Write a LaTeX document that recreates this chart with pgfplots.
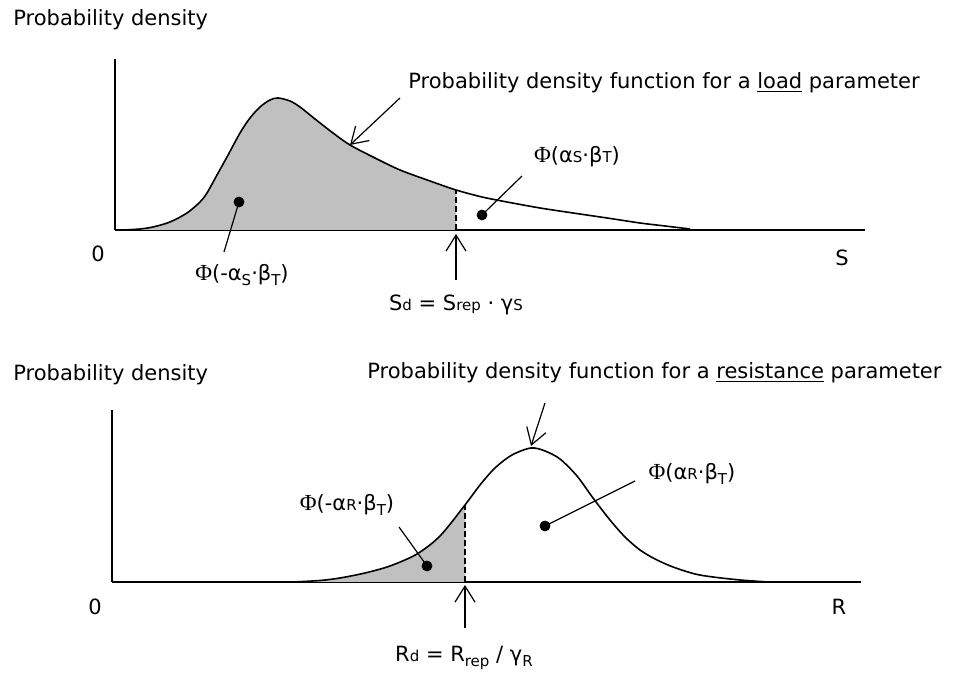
\documentclass[border=0pt]{standalone}
\usepackage{fontspec}
\setmainfont{DejaVu Sans}
\newfontfamily\phifont{Liberation Serif}
\usepackage{pgfplots}
\pgfplotsset{compat=1.18}
\usetikzlibrary{arrows.meta}
\definecolor{shade}{HTML}{C0C0C0}
\newcommand{\PHI}{{\phifont\fontsize{11.5}{13}\selectfont Φ}}
\newcommand{\lo}[1]{\raisebox{-0.4ex}{\fontsize{7.5}{9}\selectfont #1}}
\newcommand{\bs}[1]{{\fontsize{7.5}{9}\selectfont #1}}
\tikzset{arr/.style={-{Straight Barb[length=8pt,width=10pt]}, line width=0.6pt}}
\pgfplotsset{
  diag/.style={scale only axis, axis lines=left, axis line style={-, line width=1pt},
    ticks=none, clip=false, anchor=south west},
}
\begin{document}
\begin{tikzpicture}[font=\fontsize{10.5}{12.5}\selectfont]
\useasboundingbox (0,0) rectangle (480pt,336.5pt);
% ---------- top: load ----------
\begin{axis}[diag, at={(57.5pt,221.5pt)}, width=375pt, height=85.5pt,
  xmin=115, xmax=865, ymin=0, ymax=171]
\addplot[draw=none, fill=shade, smooth] coordinates {
(123,0)(140,1)(153,3)(170,8)(187,17)(200,28)(207,37)(217,55)(227,73)(240,97)(250,112)(260,123)(270,130)(278,132)(290,129)(300,123)(315,111)(333,97)(350,85)(375,72)(400,60)(430,49)(456,40)} \closedcycle;
\addplot[black, line width=0.8pt, smooth] coordinates {
(123,0)(140,1)(153,3)(170,8)(187,17)(200,28)(207,37)(217,55)(227,73)(240,97)(250,112)(260,123)(270,130)(278,132)(290,129)(300,123)(315,111)(333,97)(350,85)(375,72)(400,60)(430,49)(456,40)(482,33)(507,28)(540,22)(573,17)(607,12)(640,7)(665,4)(690,1)};
\addplot[black, line width=0.8pt, dash pattern=on 3pt off 1.5pt] coordinates {(456,0)(456,40)};
\addplot[black, line width=0.6pt] coordinates {(239,28)(224,-22)};
\addplot[black, line width=0.6pt] coordinates {(482,15)(522,54)};
\addplot[only marks, mark=*, mark size=2.5pt, black] coordinates {(239,28)(482,15)};
\draw[arr] (axis cs:400,132) -- (axis cs:350,85);
\draw[arr] (axis cs:456,-50) -- (axis cs:456,-4);
\node[anchor=west, inner sep=0pt] at (axis cs:13,210) {Probability density};
\node[anchor=west, inner sep=0pt] at (axis cs:408,147) {Probability density function for a \underline{load} parameter};
\node at (axis cs:577,73) {\PHI(α\bs{S}·β\bs{T})};
\node at (axis cs:242,-45) {\PHI(-α\lo{S}·β\lo{T})};
\node at (axis cs:98,-24) {0};
\node at (axis cs:842,-28) {S};
\node at (axis cs:456,-75) {S\bs{d} = S\bs{rep} · γ\bs{S}};
\end{axis}
% ---------- bottom: resistance ----------
\begin{axis}[diag, at={(56pt,45.5pt)}, width=374.5pt, height=86pt,
  xmin=112, xmax=861, ymin=0, ymax=172]
\addplot[draw=none, fill=shade, smooth] coordinates {
(293,0)(320,1.5)(340,4)(365,9)(390,16)(417,28)(440,46)(465,77)} \closedcycle;
\addplot[black, line width=0.8pt, smooth] coordinates {
(293,0)(320,1.5)(340,4)(365,9)(390,16)(417,28)(440,46)(465,77)(480,97)(495,114)(512,127)(531,134)(545,131)(560,123)(577,106)(593,84)(610,62)(625,45)(640,32)(655,23)(673,15)(695,8)(713,5)(740,2)(768,0)};
\addplot[black, line width=0.8pt, dash pattern=on 3pt off 1.5pt] coordinates {(465,0)(465,77)};
\addplot[black, line width=0.6pt] coordinates {(427,16)(399,55)};
\addplot[black, line width=0.6pt] coordinates {(545,56)(635,101)};
\addplot[only marks, mark=*, mark size=2.5pt, black] coordinates {(427,16)(545,56)};
\draw[arr] (axis cs:545,179) -- (axis cs:531,136);
\draw[arr] (axis cs:465,-46) -- (axis cs:465,-3);
\node[anchor=west, inner sep=0pt] at (axis cs:13,207) {Probability density};
\node[anchor=west, inner sep=0pt] at (axis cs:367,209) {Probability density function for a \underline{resistance} parameter};
\node at (axis cs:692,108) {\PHI(α\bs{R}·β\lo{T})};
\node at (axis cs:347,77) {\PHI(-α\bs{R}·β\lo{T})};
\node at (axis cs:95,-25) {0};
\node at (axis cs:839,-25) {R};
\node at (axis cs:464,-76) {R\bs{d} = R\lo{rep} / γ\lo{R}};
\end{axis}
\end{tikzpicture}
\end{document}
